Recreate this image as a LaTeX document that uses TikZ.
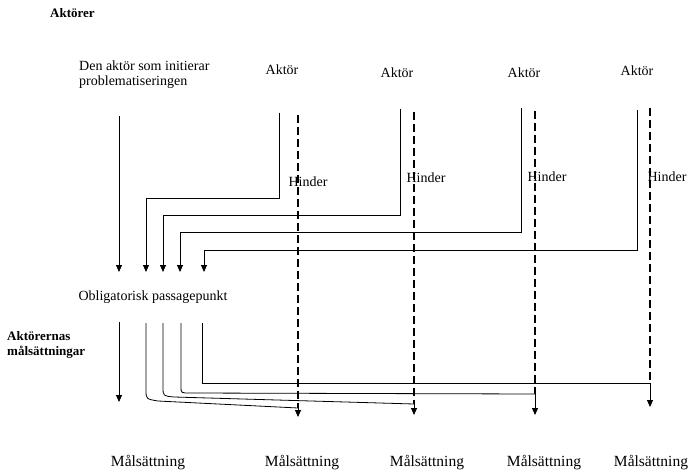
\documentclass[tikz,border=0pt]{standalone}
\usepackage{fontspec}
\setmainfont{Liberation Serif}
\usetikzlibrary{arrows.meta}

\begin{document}
\begin{tikzpicture}[x=1pt,y=-1pt,
  thin line/.style={line width=0.8pt},
  arrow line/.style={line width=0.8pt,-{Triangle[width=6pt,length=7pt]}},
  hinder line/.style={line width=2pt,dash pattern=on 8pt off 4pt},
  text node/.style={inner sep=0pt,font=\fontsize{14}{15}\selectfont},
  goal node/.style={inner sep=0pt,font=\fontsize{15.5}{16}\selectfont},
  head node/.style={inner sep=0pt,align=left,font=\bfseries\fontsize{13}{15}\selectfont}]

  \useasboundingbox (0,0) rectangle (690,476);

  \node[head node,anchor=west] (aktorer) at (50,13) {Aktörer};
  \node[head node,anchor=west] (malrubrik) at (7,345) {Aktörernas\\målsättningar};

  \node[text node,align=left,anchor=west] (init) at (79,75) {Den aktör som initierar\\problematiseringen};
  \node[text node] (a1) at (282,70) {Aktör};
  \node[text node] (a2) at (397,73) {Aktör};
  \node[text node] (a3) at (524,73) {Aktör};
  \node[text node] (a4) at (637,71) {Aktör};

  \node[text node] (opp) at (153,297) {Obligatorisk passagepunkt};

  \node[goal node] (m0) at (148,463) {Målsättning};
  \node[goal node] (m1) at (302,463) {Målsättning};
  \node[goal node] (m2) at (427,463) {Målsättning};
  \node[goal node] (m3) at (544,463) {Målsättning};
  \node[goal node] (m4) at (651,463) {Målsättning};

  % upper part: actors to the passage point
  \coordinate (i0) at (119,116);
  \coordinate (i1) at (119,272);
  \coordinate (s1) at (279,113);
  \coordinate (s2) at (400,109);
  \coordinate (s3) at (521,108);
  \coordinate (s4) at (637,110);
  \coordinate (k1) at (146,198);
  \coordinate (k2) at (163,215);
  \coordinate (k3) at (180,232);
  \coordinate (k4) at (204,250);
  \coordinate (p1) at (146,272);
  \coordinate (p2) at (163,272);
  \coordinate (p3) at (180,272);
  \coordinate (p4) at (204,272);

  \draw[arrow line] (i0) -- (i1);
  \draw[arrow line] (s1) |- (k1) -- (p1);
  \draw[arrow line] (s2) |- (k2) -- (p2);
  \draw[arrow line] (s3) |- (k3) -- (p3);
  \draw[arrow line] (s4) |- (k4) -- (p4);

  % lower part: passage point to the goals
  \coordinate (o0) at (119,322);
  \coordinate (o1) at (119,402);
  \coordinate (u1) at (146,323);
  \coordinate (u2) at (163,323);
  \coordinate (u3) at (181,323);
  \coordinate (u4) at (202,323);
  \coordinate (e1) at (298,408);
  \coordinate (e2) at (414,404);
  \coordinate (e3) at (535,394);
  \coordinate (e4) at (650,383);
  \coordinate (t1) at (298,417);
  \coordinate (t2) at (414,415);
  \coordinate (t3) at (535,415);
  \coordinate (t4) at (650,407);

  \draw[arrow line] (o0) -- (o1);
  \draw[thin line] (u1) -- (146,390) .. controls (146,399) .. (158,401) -- (e1);
  \draw[thin line] (u2) -- (163,387) .. controls (163,396) .. (174,397) -- (e2);
  \draw[thin line] (u3) -- (181,387) .. controls (181,393) .. (190,393) -- (e3);
  \draw[thin line] (u4) |- (e4);

  % hinder
  \coordinate (d1) at (298,115);
  \coordinate (d2) at (414,112);
  \coordinate (d3) at (535,111);
  \coordinate (d4) at (650,108);
  \foreach \i in {1,...,4} {
    \draw[hinder line] (d\i) -- (e\i);
    \draw[arrow line] (e\i) -- (t\i);
  }

  \node[text node] (h1) at (308,182) {Hinder};
  \node[text node] (h2) at (426,178) {Hinder};
  \node[text node] (h3) at (547,177) {Hinder};
  \node[text node] (h4) at (667,177) {Hinder};
\end{tikzpicture}
\end{document}
